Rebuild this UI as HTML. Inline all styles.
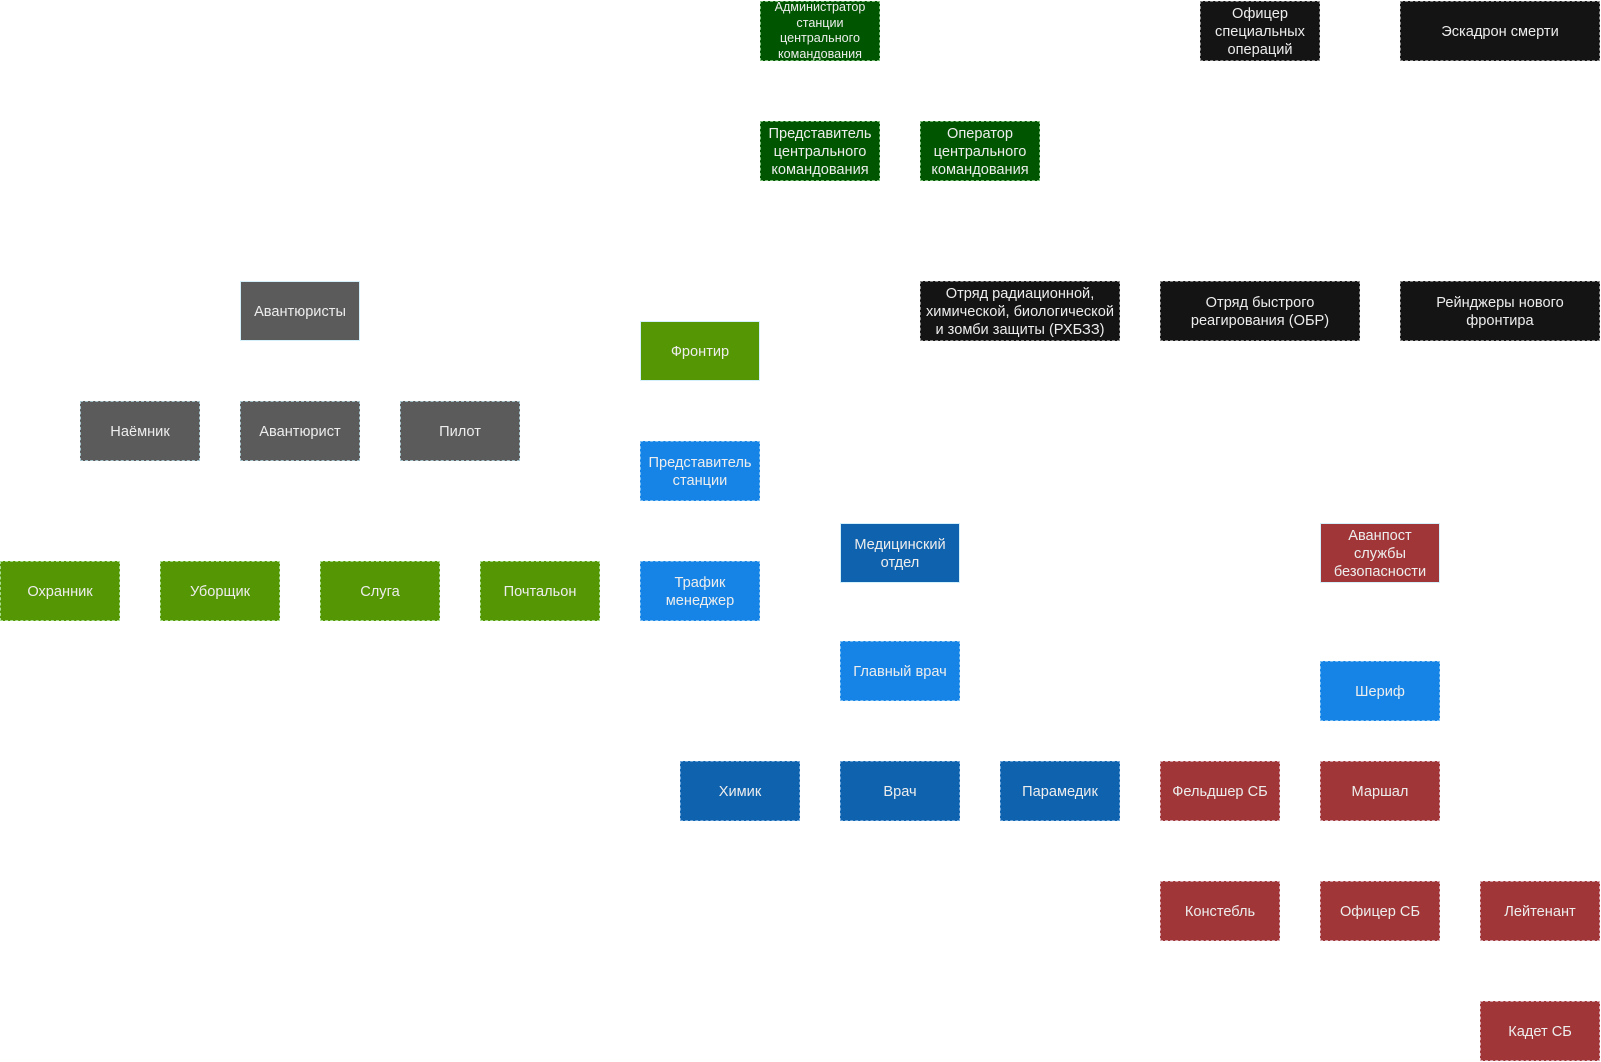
<!DOCTYPE html>
<html>
<head>
<meta charset="utf-8">
<style>
html,body{margin:0;padding:0;background:#fff;}
body{width:1601px;height:1062px;position:relative;overflow:hidden;font-family:"Liberation Sans","Noto Sans CJK SC",sans-serif;}
.b{position:absolute;box-sizing:border-box;width:120px;height:60px;display:flex;align-items:center;justify-content:center;text-align:center;color:#ededed;font-size:14.6px;line-height:18px;border:1px dashed;white-space:nowrap;padding-top:2px;}
.w{width:200px;}
.dg{background:#005600;border-color:#7fc07f;}
.g{background:#559605;border-color:#a8dd90;}
.lb{background:#1684e6;border-color:#7ec0f4;}
.db{background:#0f62ae;border-color:#6fa6dc;}
.r{background:#a03637;border-color:#d8a8b0;}
.gr{background:#5b5b5b;border-color:#a8c4cc;}
.k{background:#141414;border-color:#8a8a8a;}
.s{border-style:solid;border-color:#d4f0fb;}
.sm{font-size:12.6px;line-height:15.5px;padding-top:0;}
</style>
</head>
<body>
<div class="b dg sm" style="left:760px;top:1px;">Администратор<br>станции<br>центрального<br>командования</div>
<div class="b dg" style="left:760px;top:121px;">Представитель<br>центрального<br>командования</div>
<div class="b dg" style="left:920px;top:121px;">Оператор<br>центрального<br>командования</div>

<div class="b k" style="left:1200px;top:1px;">Офицер<br>специальных<br>операций</div>
<div class="b k w" style="left:1400px;top:1px;">Эскадрон смерти</div>

<div class="b k w" style="left:920px;top:281px;">Отряд радиационной,<br>химической, биологической<br>и зомби защиты (РХБЗЗ)</div>
<div class="b k w" style="left:1160px;top:281px;">Отряд быстрого<br>реагирования (ОБР)</div>
<div class="b k w" style="left:1400px;top:281px;">Рейнджеры нового<br>фронтира</div>

<div class="b gr s" style="left:240px;top:281px;">Авантюристы</div>
<div class="b g s" style="left:640px;top:321px;">Фронтир</div>

<div class="b gr" style="left:80px;top:401px;">Наёмник</div>
<div class="b gr" style="left:240px;top:401px;">Авантюрист</div>
<div class="b gr" style="left:400px;top:401px;">Пилот</div>

<div class="b lb" style="left:640px;top:441px;">Представитель<br>станции</div>

<div class="b db s" style="left:840px;top:523px;">Медицинский<br>отдел</div>
<div class="b r s" style="left:1320px;top:523px;">Аванпост<br>службы<br>безопасности</div>

<div class="b g" style="left:0px;top:561px;">Охранник</div>
<div class="b g" style="left:160px;top:561px;">Уборщик</div>
<div class="b g" style="left:320px;top:561px;">Слуга</div>
<div class="b g" style="left:480px;top:561px;">Почтальон</div>
<div class="b lb" style="left:640px;top:561px;">Трафик<br>менеджер</div>

<div class="b lb" style="left:840px;top:641px;">Главный врач</div>
<div class="b lb" style="left:1320px;top:661px;">Шериф</div>

<div class="b db" style="left:680px;top:761px;">Химик</div>
<div class="b db" style="left:840px;top:761px;">Врач</div>
<div class="b db" style="left:1000px;top:761px;">Парамедик</div>
<div class="b r" style="left:1160px;top:761px;">Фельдшер СБ</div>
<div class="b r" style="left:1320px;top:761px;">Маршал</div>

<div class="b r" style="left:1160px;top:881px;">Констебль</div>
<div class="b r" style="left:1320px;top:881px;">Офицер СБ</div>
<div class="b r" style="left:1480px;top:881px;">Лейтенант</div>

<div class="b r" style="left:1480px;top:1001px;">Кадет СБ</div>
</body>
</html>
